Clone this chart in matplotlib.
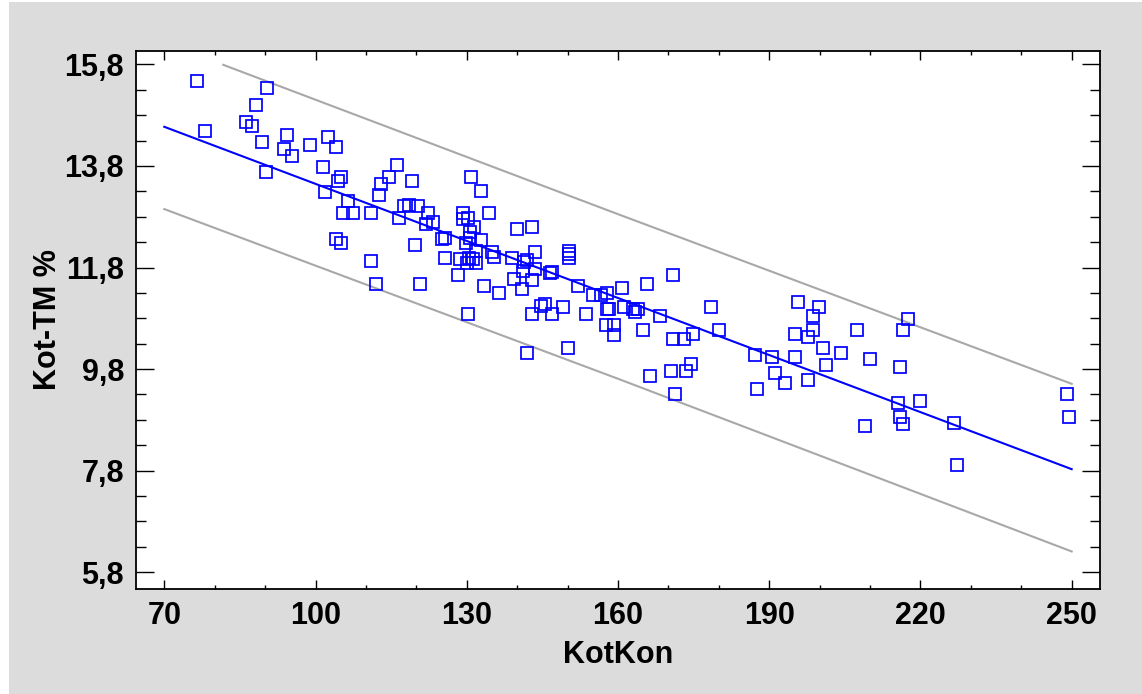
import matplotlib
matplotlib.use('Agg')
import matplotlib.pyplot as plt
from matplotlib.patches import Rectangle
from matplotlib.ticker import FixedLocator, MultipleLocator

plt.rcParams['font.family'] = ['Liberation Sans', 'DejaVu Sans']
plt.rcParams['font.weight'] = 'bold'

# scatter data
kotkon = [
    76.5, 90.3, 88.2, 86.2, 87.3, 78.1, 89.3, 94.3, 93.8, 95.4,
    98.9, 102.5, 104.0, 90.2, 101.4, 105.0, 104.5, 116.2, 114.6, 113.0,
    112.5, 119.2, 101.9, 106.5, 105.4, 107.5, 111.1, 116.6, 117.5, 118.6,
    120.3, 122.3, 122.0, 123.4, 104.1, 105.0, 111.1, 119.7, 112.0, 120.7,
    125.0, 125.7, 125.7, 130.8, 132.8, 129.3, 129.2, 130.3, 134.4, 131.4,
    139.9, 143.0, 130.6, 130.6, 129.8, 132.8, 131.9, 130.4, 131.2, 130.1,
    131.8, 128.7, 128.3, 135.0, 135.4, 139.0, 143.5, 150.2, 150.2, 150.2,
    141.3, 141.9, 141.2, 143.6, 146.5, 147.0, 139.3, 141.0, 142.9, 133.4,
    136.4, 152.1, 155.1, 156.7, 157.8, 160.7, 165.8, 170.9, 178.4, 180.1,
    130.3, 142.9, 144.7, 145.6, 146.9, 149.1, 153.7, 157.8, 158.2, 161.2,
    163.0, 163.4, 163.9, 168.3, 157.7, 159.3, 159.2, 164.9, 170.9, 173.0,
    174.9, 142.0, 150.1, 166.4, 170.5, 173.4, 174.4, 171.4,
    195.7, 199.8, 198.7, 198.7, 197.7, 195.2, 207.4, 217.5, 216.5, 187.1,
    190.6, 195.2, 200.7, 204.3, 201.3, 209.9, 215.9, 191.2, 193.2, 197.7,
    187.6, 215.5, 220.0, 215.9, 216.5, 208.9, 226.7, 227.2, 249.0, 249.4,
]
kot_tm = [
    15.48, 15.34, 14.99, 14.67, 14.59, 14.49, 14.27, 14.40, 14.13, 13.99,
    14.22, 14.36, 14.17, 13.68, 13.77, 13.59, 13.50, 13.81, 13.59, 13.45,
    13.23, 13.50, 13.28, 13.10, 12.87, 12.87, 12.87, 12.78, 13.01, 13.04,
    13.01, 12.87, 12.65, 12.69, 12.37, 12.29, 11.93, 12.24, 11.48, 11.48,
    12.37, 12.38, 11.98, 13.59, 13.31, 12.88, 12.75, 12.78, 12.87, 12.60,
    12.55, 12.60, 12.50, 12.39, 12.28, 12.34, 12.12, 11.98, 11.96, 11.88,
    11.88, 11.97, 11.66, 12.11, 12.01, 11.98, 12.11, 12.13, 12.06, 11.98,
    11.91, 11.95, 11.73, 11.78, 11.69, 11.71, 11.57, 11.38, 11.56, 11.44,
    11.29, 11.44, 11.25, 11.25, 11.29, 11.39, 11.48, 11.65, 11.03, 10.57,
    10.89, 10.89, 11.05, 11.09, 10.89, 11.03, 10.89, 10.98, 10.98, 11.02,
    10.99, 10.93, 10.98, 10.85, 10.66, 10.66, 10.48, 10.57, 10.39, 10.39,
    10.49, 10.12, 10.21, 9.67, 9.76, 9.76, 9.90, 9.31,
    11.12, 11.02, 10.84, 10.57, 10.44, 10.49, 10.57, 10.79, 10.57, 10.07,
    10.03, 10.03, 10.22, 10.12, 9.89, 9.99, 9.85, 9.72, 9.53, 9.59,
    9.40, 9.13, 9.17, 8.86, 8.72, 8.68, 8.73, 7.91, 9.31, 8.86,
]

# fitted line and prediction limits
fit_x = [70, 250]
fit_y = [14.57, 7.83]
upper_x = [81.7, 160, 250]
upper_y = [15.79, 12.85, 9.51]
lower_x = [70, 160, 250]
lower_y = [12.95, 9.61, 6.21]

x_ticks = [70, 100, 130, 160, 190, 220, 250]
y_ticks = [5.8, 7.8, 9.8, 11.8, 13.8, 15.8]

fig = plt.figure(figsize=(11.42, 6.94), dpi=100)
fig.patches.append(Rectangle((9 / 1142, 0), 1, 1 - 2 / 694, transform=fig.transFigure,
                             facecolor='#dcdcdc', edgecolor='none', zorder=-10))
ax = fig.add_axes([0.1191, 0.1513, 0.8437, 0.7752])
ax.set_facecolor('white')

ax.plot(upper_x, upper_y, color='#a8a8a8', lw=1.5)
ax.plot(lower_x, lower_y, color='#a8a8a8', lw=1.5)
ax.plot(fit_x, fit_y, color='#0000ff', lw=1.5)
ax.plot(kotkon, kot_tm, ls='none', marker='s', ms=8, mfc='none', mec='#0000ff', mew=1.25)

ax.set_xlim(64.39, 255.52)
ax.set_ylim(5.471, 16.062)

ax.xaxis.set_major_locator(FixedLocator(x_ticks))
ax.xaxis.set_minor_locator(MultipleLocator(10))
ax.yaxis.set_major_locator(FixedLocator(y_ticks))
ax.yaxis.set_minor_locator(FixedLocator([5.8 + 0.5 * i for i in range(21)]))
ax.set_xticklabels([str(v) for v in x_ticks])
ax.set_yticklabels([f'{v:.1f}'.replace('.', ',') for v in y_ticks])

ax.tick_params(axis='both', which='both', direction='in', top=True, right=True,
               width=1.0, color='black', labelsize=22)
ax.tick_params(axis='y', which='major', length=12.7, pad=8.5)
ax.tick_params(axis='y', which='minor', length=7.2)
ax.tick_params(axis='x', which='major', length=6.5, pad=9)
ax.tick_params(axis='x', which='minor', length=3.1)
for lab in ax.get_xticklabels() + ax.get_yticklabels():
    lab.set_fontweight('bold')

for sp in ax.spines.values():
    sp.set_linewidth(1.3)

ax.set_xlabel('KotKon', fontsize=22, fontweight='bold', va='center')
ax.set_ylabel('Kot-TM %', fontsize=22, fontweight='bold', va='center')
ax.xaxis.set_label_coords(0.5, -0.1227)
ax.yaxis.set_label_coords(-0.0912, 0.5)

fig.savefig('out.png', dpi=100)
